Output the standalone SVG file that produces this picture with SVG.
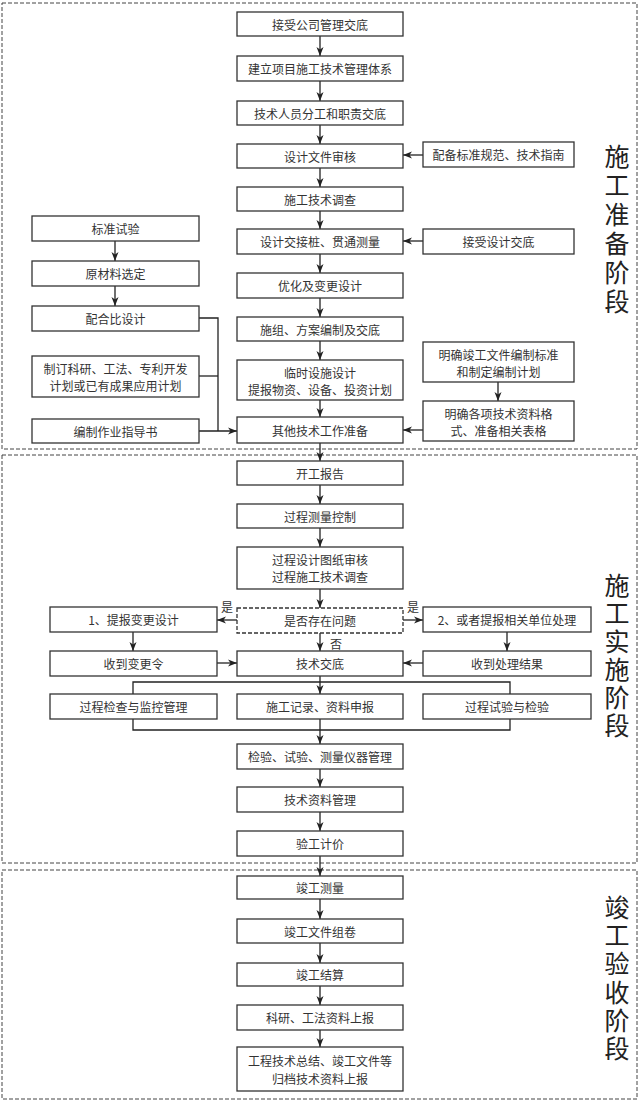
<svg xmlns="http://www.w3.org/2000/svg" width="640" height="1105" viewBox="0 0 640 1105">
<defs>
<marker id="ah" markerUnits="userSpaceOnUse" markerWidth="10" markerHeight="8" refX="9" refY="4" orient="auto">
<path d="M0,0.5 L9,4 L0,7.5 L2.5,4 z" fill="#222"/>
</marker>
<style>
.frame{fill:none;stroke:#444;stroke-width:1;stroke-dasharray:4,2}
.box rect{fill:#fff;stroke:#333;stroke-width:1.3}
.dash rect{stroke-dasharray:4,2}
text{font-family:"Noto Sans CJK SC","Liberation Serif",sans-serif;font-size:12px;fill:#333;text-anchor:middle;dominant-baseline:central}
.phase{font-size:25px;fill:#222;writing-mode:vertical-rl;text-anchor:start}
.lbl{font-size:12px}
#connectors path{fill:none;stroke:#222;stroke-width:1.3}
#connectors .a{marker-end:url(#ah)}
</style>
</defs>
<rect width="640" height="1105" fill="#fff"/>
<g id="frames">
<rect class="frame" x="2" y="3" width="635" height="446"/>
<rect class="frame" x="2" y="455" width="635" height="408"/>
<rect class="frame" x="2" y="870" width="635" height="229"/>
</g>
<g id="phases">
<text class="phase" x="617" y="143.5" letter-spacing="4">施工准备阶段</text>
<text class="phase" x="617" y="572.5" letter-spacing="3">施工实施阶段</text>
<text class="phase" x="617" y="894.5" letter-spacing="3.4">竣工验收阶段</text>
</g>
<g id="connectors">
<path class="a" d="M320,36 V56"/>
<path class="a" d="M320,81 V101"/>
<path class="a" d="M320,125 V144"/>
<path class="a" d="M320,168 V187"/>
<path class="a" d="M320,211 V229"/>
<path class="a" d="M320,254 V273"/>
<path class="a" d="M320,298 V317"/>
<path class="a" d="M320,341 V360"/>
<path class="a" d="M320,400 V417"/>
<path class="a" d="M320,443 V461"/>
<path class="a" d="M423,155 H403"/>
<path class="a" d="M423,241 H403"/>
<path class="a" d="M498,382 V401"/>
<path class="a" d="M423,430 H403"/>
<path class="a" d="M115,241 V261"/>
<path class="a" d="M115,286 V306"/>
<path d="M199,318 H218 V431"/>
<path d="M199,376 H218"/>
<path class="a" d="M199,431 H237"/>
<path class="a" d="M320,485 V504"/>
<path class="a" d="M320,528 V547"/>
<path class="a" d="M320,589 V608"/>
<path class="a" d="M320,633 V651"/>
<path class="a" d="M237,620 H217"/>
<path class="a" d="M403,620 H423"/>
<path class="a" d="M133,632 V651"/>
<path class="a" d="M507,632 V651"/>
<path class="a" d="M217,663 H237"/>
<path class="a" d="M423,663 H403"/>
<path d="M133,694 V682 H510 V694"/>
<path d="M133,719 V730 H510 V719"/>
<path class="a" d="M320,676 V694"/>
<path class="a" d="M320,719 V744"/>
<path class="a" d="M320,769 V787"/>
<path class="a" d="M320,812 V831"/>
<path class="a" d="M320,856 V876"/>
<path class="a" d="M320,899 V919"/>
<path class="a" d="M320,943 V963"/>
<path class="a" d="M320,986 V1005"/>
<path class="a" d="M320,1030 V1047"/>
<text class="lbl" x="227" y="606">是</text>
<text class="lbl" x="413" y="606">是</text>
<text class="lbl" x="336" y="643">否</text>
</g>
<g id="n1" class="box"><rect x="237" y="12" width="166" height="24"/><text x="320" y="24">接受公司管理交底</text></g>
<g id="n2" class="box"><rect x="237" y="56" width="166" height="25"/><text x="320" y="68.5">建立项目施工技术管理体系</text></g>
<g id="n3" class="box"><rect x="237" y="101" width="166" height="24"/><text x="320" y="113">技术人员分工和职责交底</text></g>
<g id="n4" class="box"><rect x="237" y="144" width="166" height="24"/><text x="320" y="156">设计文件审核</text></g>
<g id="n5" class="box"><rect x="237" y="187" width="166" height="24"/><text x="320" y="199">施工技术调查</text></g>
<g id="n6" class="box"><rect x="237" y="229" width="166" height="25"/><text x="320" y="241.5">设计交接桩、贯通测量</text></g>
<g id="n7" class="box"><rect x="237" y="273" width="166" height="25"/><text x="320" y="285.5">优化及变更设计</text></g>
<g id="n8" class="box"><rect x="237" y="317" width="166" height="24"/><text x="320" y="329">施组、方案编制及交底</text></g>
<g id="n9" class="box"><rect x="237" y="360" width="166" height="40"/><text x="320" y="372">临时设施设计</text><text x="320" y="389">提报物资、设备、投资计划</text></g>
<g id="n10" class="box"><rect x="237" y="417" width="166" height="26"/><text x="320" y="430">其他技术工作准备</text></g>
<g id="r1" class="box"><rect x="423" y="142" width="151" height="25"/><text x="498.5" y="154.5">配备标准规范、技术指南</text></g>
<g id="r2" class="box"><rect x="423" y="229" width="151" height="25"/><text x="498.5" y="241.5">接受设计交底</text></g>
<g id="r3" class="box"><rect x="423" y="342" width="151" height="40"/><text x="498.5" y="354">明确竣工文件编制标准</text><text x="498.5" y="371">和制定编制计划</text></g>
<g id="r4" class="box"><rect x="423" y="401" width="151" height="40"/><text x="498.5" y="413">明确各项技术资料格</text><text x="498.5" y="430">式、准备相关表格</text></g>
<g id="l1" class="box"><rect x="32" y="216" width="167" height="25"/><text x="115.5" y="228.5">标准试验</text></g>
<g id="l2" class="box"><rect x="32" y="261" width="167" height="25"/><text x="115.5" y="273.5">原材料选定</text></g>
<g id="l3" class="box"><rect x="32" y="306" width="167" height="25"/><text x="115.5" y="318.5">配合比设计</text></g>
<g id="l4" class="box"><rect x="32" y="356" width="167" height="41"/><text x="115.5" y="368">制订科研、工法、专利开发</text><text x="115.5" y="385">计划或已有成果应用计划</text></g>
<g id="l5" class="box"><rect x="32" y="419" width="167" height="24"/><text x="115.5" y="431">编制作业指导书</text></g>
<g id="m1" class="box"><rect x="237" y="461" width="166" height="24"/><text x="320" y="473">开工报告</text></g>
<g id="m2" class="box"><rect x="237" y="504" width="166" height="24"/><text x="320" y="516">过程测量控制</text></g>
<g id="m3" class="box"><rect x="237" y="547" width="166" height="42"/><text x="320" y="559">过程设计图纸审核</text><text x="320" y="576">过程施工技术调查</text></g>
<g id="m4" class="box dash"><rect x="237" y="608" width="166" height="25"/><text x="320" y="620.5">是否存在问题</text></g>
<g id="m5" class="box"><rect x="237" y="651" width="166" height="25"/><text x="320" y="663.5">技术交底</text></g>
<g id="m6" class="box"><rect x="237" y="694" width="166" height="25"/><text x="320" y="706.5">施工记录、资料申报</text></g>
<g id="m7" class="box"><rect x="237" y="744" width="166" height="25"/><text x="320" y="756.5">检验、试验、测量仪器管理</text></g>
<g id="m8" class="box"><rect x="237" y="787" width="166" height="25"/><text x="320" y="799.5">技术资料管理</text></g>
<g id="m9" class="box"><rect x="237" y="831" width="166" height="25"/><text x="320" y="843.5">验工计价</text></g>
<g id="ml1" class="box"><rect x="50" y="607" width="167" height="25"/><text x="133.5" y="619.5">1、提报变更设计</text></g>
<g id="ml2" class="box"><rect x="50" y="651" width="167" height="25"/><text x="133.5" y="663.5">收到变更令</text></g>
<g id="ml3" class="box"><rect x="50" y="694" width="167" height="25"/><text x="133.5" y="706.5">过程检查与监控管理</text></g>
<g id="mr1" class="box"><rect x="423" y="607" width="168" height="25"/><text x="507" y="619.5">2、或者提报相关单位处理</text></g>
<g id="mr2" class="box"><rect x="423" y="651" width="168" height="25"/><text x="507" y="663.5">收到处理结果</text></g>
<g id="mr3" class="box"><rect x="423" y="694" width="168" height="25"/><text x="507" y="706.5">过程试验与检验</text></g>
<g id="c1" class="box"><rect x="237" y="876" width="166" height="23"/><text x="320" y="887.5">竣工测量</text></g>
<g id="c2" class="box"><rect x="237" y="919" width="166" height="24"/><text x="320" y="931">竣工文件组卷</text></g>
<g id="c3" class="box"><rect x="237" y="963" width="166" height="23"/><text x="320" y="974.5">竣工结算</text></g>
<g id="c4" class="box"><rect x="237" y="1005" width="166" height="25"/><text x="320" y="1017.5">科研、工法资料上报</text></g>
<g id="c5" class="box"><rect x="237" y="1047" width="166" height="44"/><text x="320" y="1060">工程技术总结、竣工文件等</text><text x="320" y="1078">归档技术资料上报</text></g>
</svg>
